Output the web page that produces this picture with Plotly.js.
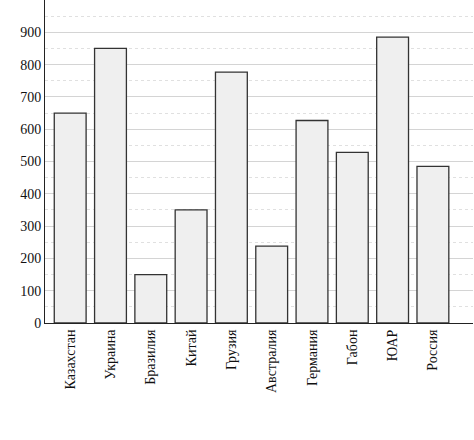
<!DOCTYPE html>
<html>
<head>
<meta charset="utf-8">
<script src="https://cdn.plot.ly/plotly-3.0.1.min.js"></script>
<style>html,body{margin:0;padding:0;background:#fff;}#chart{width:474px;height:440px;}</style>
</head>
<body>
<div id="chart"></div>
<script>
const countries = ["Казахстан","Украина","Бразилия","Китай","Грузия","Австралия","Германия","Габон","ЮАР","Россия"];
const values = [650, 850, 150, 350, 777, 238, 627, 528, 885, 485];
const yTicks = [0,100,200,300,400,500,600,700,800,900];

const serif = "'Liberation Serif', 'DejaVu Serif', serif";

const trace = {
  type: "bar",
  x: countries,
  y: values,
  width: 0.79,
  marker: {color: "#efefef", line: {color: "#333333", width: 1.3}},
  hoverinfo: "skip"
};

const layout = {
  width: 474, height: 440,
  margin: {l: 45, r: 1, t: 0, b: 117, pad: 0},
  paper_bgcolor: "#fff", plot_bgcolor: "#fff",
  showlegend: false,
  font: {family: serif, size: 14, color: "#111"},
  xaxis: {
    type: "category",
    range: [-0.625, 9.995],
    tickangle: -90,
    showline: true, linecolor: "#222", linewidth: 1,
    showgrid: false, ticks: "", ticklen: 0,
    tickfont: {family: serif, size: 14, color: "#111"},
    automargin: false
  },
  yaxis: {
    range: [0, 1000],
    tickvals: yTicks,
    ticktext: yTicks.map(String),
    showline: true, linecolor: "#222", linewidth: 1,
    showgrid: true, gridcolor: "#d4d4d4", gridwidth: 1,
    zeroline: false, ticks: "", ticklen: 4,
    minor: {dtick: 50, showgrid: true, gridcolor: "#e0e0e0", griddash: "3px,3px", gridwidth: 1},
    tickfont: {family: serif, size: 14, color: "#111"},
    automargin: false
  }
};

Plotly.newPlot("chart", [trace], layout, {staticPlot: true, displayModeBar: false});
</script>
</body>
</html>
